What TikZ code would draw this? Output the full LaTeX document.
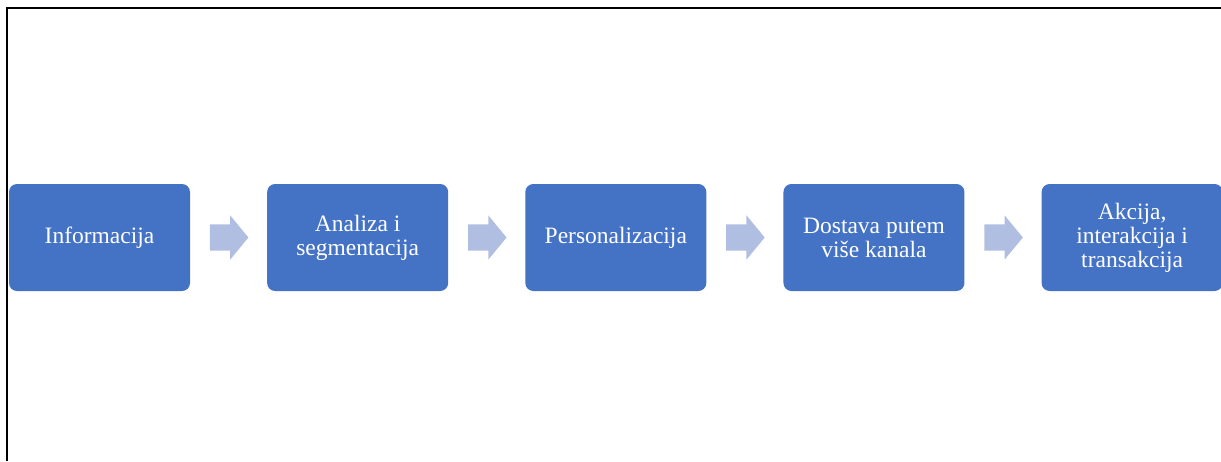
\documentclass[tikz,border=0pt]{standalone}
\usepackage{fontspec}
\setmainfont{Liberation Serif}
\usepackage{tikz}
\usetikzlibrary{positioning}
\usetikzlibrary{shapes.arrows}

\definecolor{stepblue}{HTML}{4472C4}
\definecolor{arrowblue}{HTML}{B0BEE1}

\begin{document}
\begin{tikzpicture}[x=1pt, y=1pt,
    stepbox/.style={fill=stepblue, rounded corners=8pt, minimum width=181pt, minimum height=107pt,
        inner sep=0pt, text=white, align=center, font=\fontsize{23.5}{24}\selectfont},
    fatarrow/.style={single arrow, fill=arrowblue, inner xsep=0pt, inner ysep=13pt, minimum height=38.5pt,
        single arrow head extend=9pt, single arrow tip angle=101, anchor=tail}]
\useasboundingbox (0, 0) rectangle (1221, -461);
\draw[line width=2pt] (7, -461) -- (7, -8) -- (1221, -8);
\node[stepbox] (info) at (99.5, -237.5) {Informacija};
\node[stepbox, right=76.75pt of info] (analiza) {Analiza i\\segmentacija};
\node[stepbox, right=76.75pt of analiza] (perso) {Personalizacija};
\node[stepbox, right=76.75pt of perso] (dostava) {Dostava putem\\više kanala};
\node[stepbox, right=76.75pt of dostava] (akcija) {Akcija,\\interakcija i\\transakcija};
\node[fatarrow] (a1) at ([xshift=19.5pt]info.east) {};
\node[fatarrow] (a2) at ([xshift=19.5pt]analiza.east) {};
\node[fatarrow] (a3) at ([xshift=19.5pt]perso.east) {};
\node[fatarrow] (a4) at ([xshift=19.5pt]dostava.east) {};
\end{tikzpicture}
\end{document}
